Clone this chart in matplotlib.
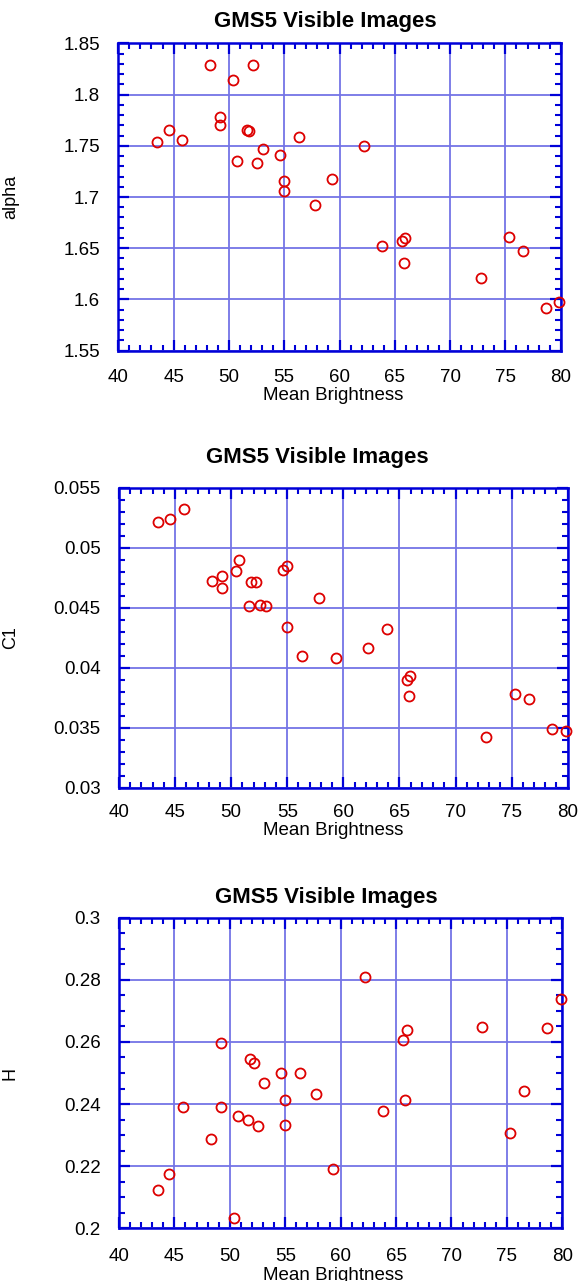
import matplotlib
matplotlib.use("Agg")
import matplotlib.pyplot as plt
from matplotlib.ticker import MultipleLocator, FormatStrFormatter

plt.rcParams['font.family'] = ['Liberation Sans', 'DejaVu Sans']

# Mean brightness of each GMS5 visible image
brightness = [43.5, 44.55, 45.75, 48.33, 49.22, 49.22, 50.4, 50.72, 51.6, 51.8,
              52.22, 52.55, 53.12, 54.6, 54.95, 54.95, 56.3, 57.82, 59.33, 62.2,
              63.85, 65.66, 65.95, 65.85, 72.76, 75.3, 76.55, 78.63, 79.85]

alpha = [1.7536, 1.765, 1.7555, 1.8286, 1.778, 1.7698, 1.814, 1.735, 1.765, 1.764,
         1.8286, 1.733, 1.747, 1.741, 1.7156, 1.706, 1.7588, 1.6919, 1.7172, 1.7494,
         1.652, 1.6568, 1.66, 1.6357, 1.6205, 1.6614, 1.647, 1.592, 1.5977]

c1 = [0.05217, 0.05242, 0.05322, 0.04725, 0.04764, 0.04661, 0.04806, 0.04897, 0.04514, 0.04714,
      0.04714, 0.04525, 0.04514, 0.04817, 0.04847, 0.04342, 0.04100, 0.04581, 0.04086, 0.04167,
      0.04325, 0.03903, 0.03931, 0.03769, 0.03425, 0.03786, 0.03742, 0.03492, 0.03475]

h = [0.2122, 0.2175, 0.2392, 0.2287, 0.2596, 0.2392, 0.2032, 0.236, 0.235, 0.2546,
     0.2531, 0.2329, 0.2468, 0.2499, 0.2414, 0.2334, 0.2499, 0.2432, 0.2190, 0.2808,
     0.2378, 0.2605, 0.2638, 0.2414, 0.2648, 0.2308, 0.2442, 0.2644, 0.2738]

title_text = "GMS5 Visible Images"
x_label = "Mean Brightness"
y_labels = ["alpha", "C1", "H"]
y_ranges = [(1.55, 1.85), (0.03, 0.055), (0.2, 0.3)]
y_major = [0.05, 0.005, 0.02]
y_minor = [0.01, 0.001, 0.005]
series = [alpha, c1, h]

W, H = 584, 1281
SPINE = '#0000d8'
GRID = '#7474e6'
MARK = '#dd0000'

# pixel layout of each panel: axes box, title centre/baseline, x-label centre/baseline, tick pad
layout = [
    dict(box=(118.3, 43.3, 560.7, 350.7), title=(325.0, 26.7), xlab=(333.4, 400.0), xpad=13.5),
    dict(box=(119.0, 487.7, 567.7, 788.0), title=(317.3, 462.7), xlab=(333.0, 834.7), xpad=11.5),
    dict(box=(119.0, 917.7, 562.3, 1228.3), title=(326.6, 903.0), xlab=(333.0, 1279.5), xpad=14.5),
]

fig = plt.figure(figsize=(W / 100, H / 100), dpi=100)

for k, lay in enumerate(layout):
    x0, y0, x1, y1 = lay['box']
    ax = fig.add_axes([x0 / W, 1 - y1 / H, (x1 - x0) / W, (y1 - y0) / H])
    ax.plot(brightness, series[k], linestyle='none', marker='o', markersize=7.2,
            markerfacecolor='none', markeredgecolor=MARK, markeredgewidth=1.3,
            clip_on=False, zorder=5)

    ax.set_xlim(40, 80)
    ax.set_ylim(*y_ranges[k])
    ax.xaxis.set_major_locator(MultipleLocator(5))
    ax.xaxis.set_minor_locator(MultipleLocator(1))
    ax.yaxis.set_major_locator(MultipleLocator(y_major[k]))
    ax.yaxis.set_minor_locator(MultipleLocator(y_minor[k]))
    ax.yaxis.set_major_formatter(FormatStrFormatter('%g'))
    ax.xaxis.set_major_formatter(FormatStrFormatter('%g'))

    ax.grid(True, which='major', color=GRID, linewidth=1.3, zorder=1)
    ax.set_axisbelow(True)
    for s in ax.spines.values():
        s.set_color(SPINE)
        s.set_linewidth(1.8)
        s.set_zorder(4)

    ax.tick_params(which='both', direction='in', top=True, right=True, color=SPINE)
    ax.tick_params(which='major', length=7.7, width=1.6)
    ax.tick_params(which='minor', length=4.3, width=1.5)
    ax.tick_params(axis='x', which='major', labelsize=13.5, pad=lay['xpad'])
    ax.tick_params(axis='y', which='major', labelsize=13.5, pad=13.3)

    # x label as a baseline-anchored axis label
    xc, xb = lay['xlab']
    ax.set_xlabel(x_label, fontsize=13.5)
    ax.xaxis.label.set_va('baseline')
    ax.xaxis.set_label_coords((xc - x0) / (x1 - x0), -(xb - y1) / (y1 - y0))

    ax.set_ylabel(y_labels[k], fontsize=13)
    ax.yaxis.label.set_va('center')
    ax.yaxis.set_label_coords((10.5 - x0) / (x1 - x0), 0.5)

    tc, tb = lay['title']
    fig.text(tc / W, 1 - tb / H, title_text, ha='center', va='baseline',
             fontsize=16, fontweight='bold')

fig.savefig('out.png', dpi=100)
